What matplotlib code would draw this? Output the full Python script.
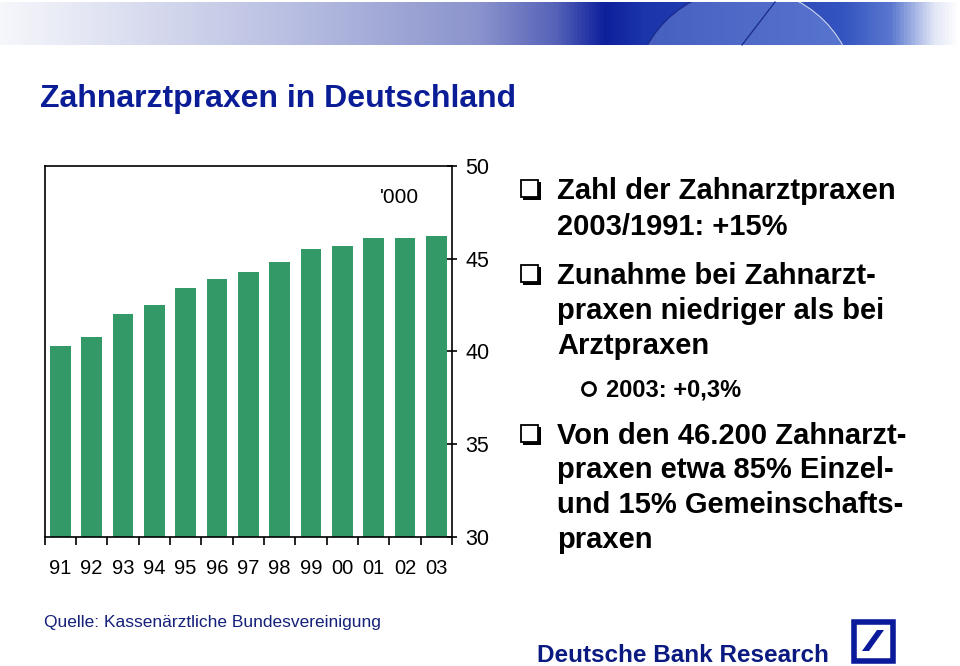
import numpy as np
import matplotlib
matplotlib.use('Agg')
import matplotlib.pyplot as plt
from matplotlib.colors import LinearSegmentedColormap
from matplotlib.patches import Rectangle, Circle, Polygon

plt.rcParams['font.family'] = ['Liberation Sans', 'DejaVu Sans']

# data: Zahnarztpraxen in '000
years = ['91', '92', '93', '94', '95', '96', '97', '98', '99', '00', '01', '02', '03']
praxen = [40.3, 40.8, 42.0, 42.5, 43.4, 43.9, 44.3, 44.8, 45.5, 45.7, 46.1, 46.1, 46.2]
yticks = [30, 35, 40, 45, 50]

title = 'Zahnarztpraxen in Deutschland'
bullets = [
    ['Zahl der Zahnarztpraxen', '2003/1991: +15%'],
    ['Zunahme bei Zahnarzt-', 'praxen niedriger als bei', 'Arztpraxen'],
    ['Von den 46.200 Zahnarzt-', 'praxen etwa 85% Einzel-', 'und 15% Gemeinschafts-', 'praxen'],
]
subbullet = '2003: +0,3%'
quelle = 'Quelle: Kassenärztliche Bundesvereinigung'
brand = 'Deutsche Bank Research'

W, H = 960, 666
fig = plt.figure(figsize=(W / 100, H / 100), dpi=100)
fig.patch.set_facecolor('white')

# overlay in pixel coords for the slide decoration
ov = fig.add_axes([0, 0, 1, 1], zorder=0)
ov.set_xlim(0, W)
ov.set_ylim(H, 0)
ov.axis('off')
ov.patch.set_alpha(0)

# header banner with globe
cm = LinearSegmentedColormap.from_list('banner', [
    (0.0, '#f6f7fb'), (0.3, '#b9bfe2'), (0.5, '#8a93cc'), (0.58, '#5562b8'),
    (0.63, '#0e209c'), (0.67, '#1a34aa'), (0.88, '#3454c0'), (0.93, '#5a78cf'),
    (0.975, '#e2e7f6'), (1.0, '#ffffff')])
grad = np.linspace(0, 1, 512).reshape(1, -1)
ov.imshow(grad, cmap=cm, aspect='auto', extent=[0, W, 45, 2], zorder=1)
clip = Rectangle((0, 2), W, 43, transform=ov.transData)
globe = Circle((745, 100), 112, fc='#9ab2ea', ec='none', alpha=0.35, zorder=2)
rim = Circle((745, 100), 112, fill=False, ec='#1a2a8a', lw=0.9, zorder=3)
rim2 = Circle((745, 100), 112, fill=False, ec='#c8d6f6', lw=0.9, zorder=3)
meridian = Circle((745, 160), 100, fill=False, ec='#2a40a8', lw=0.9, zorder=3)
for p in (globe, rim, meridian):
    ov.add_patch(p)
    p.set_clip_path(clip)
ov.add_patch(rim2)
rim2.set_clip_path(Rectangle((745, 2), 200, 43, transform=ov.transData))
ov.plot([742, 775], [45, 2], color='#1a2a8a', lw=0.9, zorder=3)

ov.text(40, 107, title, fontsize=23, fontweight='bold', color='#0b1d96', va='baseline')

# bullet text
baselines = [[199, 235], [284, 319, 354], [444, 478, 513, 548]]
for lines, ys in zip(bullets, baselines):
    ov.add_patch(Rectangle((523, ys[0] - 17), 18, 18, fc='black', ec='none', zorder=3))
    ov.add_patch(Rectangle((521, ys[0] - 19), 17, 17, fc='white', ec='black', lw=1.3, zorder=4))
    for txt, yb in zip(lines, ys):
        ov.text(557, yb, txt, fontsize=21, fontweight='bold', color='black', va='baseline')
ov.add_patch(Circle((589, 389), 6.5, fc='white', ec='black', lw=2, zorder=4))
ov.text(606, 396, subbullet, fontsize=17, fontweight='bold', color='black', va='baseline')

# footer
ov.text(44, 627, quelle, fontsize=12.5, color='#14207a', va='baseline')
ov.text(537, 662, brand, fontsize=17.5, fontweight='bold', color='#0a1a80', va='baseline')
ov.add_patch(Rectangle((853.5, 621.5), 39, 39, fc='white', ec='#0a1a9a', lw=4, zorder=4))
ov.add_patch(Polygon([(862, 651), (869, 651), (884, 630), (877, 630)], closed=True,
                     fc='#0a1a9a', ec='none', zorder=5))

# chart
ax = fig.add_axes([44.5 / W, 1 - 536.7 / H, (452 - 44.5) / W, (536.7 - 166) / H], zorder=2)
x = np.arange(len(years))
ax.bar(x, [v - 30 for v in praxen], bottom=30, width=0.66, color='#339966', zorder=2)
ax.set_xlim(-0.5, len(years) - 0.5)
ax.set_ylim(30, 50)
for s in ax.spines.values():
    s.set_linewidth(1.2)
ax.yaxis.tick_right()
ax.set_yticks(yticks)
ax.set_yticklabels([str(t) for t in yticks], fontsize=15.5)
ax.tick_params(axis='y', direction='inout', length=7, width=1.2, pad=6)
ax.set_xticks(x)
ax.set_xticklabels(years, fontsize=14.5)
ax.tick_params(axis='x', which='major', length=0, pad=16)
ax.set_xticks(np.arange(-0.5, len(years), 1), minor=True)
ax.tick_params(axis='x', which='minor', direction='out', length=6, width=1.2)
ax.text(0.872, 0.914, "'000", transform=ax.transAxes, ha='center', va='center',
        fontsize=15)

fig.savefig('out.png', dpi=100)
